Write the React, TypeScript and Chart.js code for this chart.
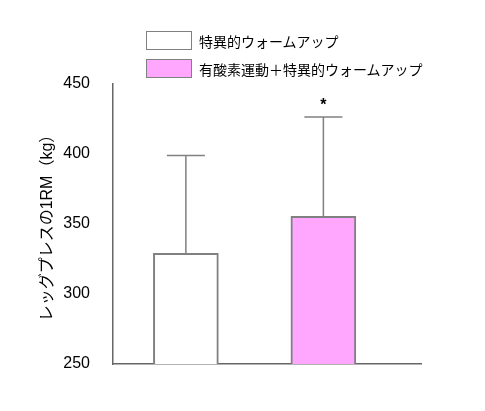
import { useEffect, useRef } from 'react';
import { Chart, registerables } from 'chart.js';

Chart.register(...registerables);

// groups and their x positions on the linear x axis
const groups = ['特異的ウォームアップ', '有酸素運動＋特異的ウォームアップ'];
const groupPos = [1, 2];
const means = [329, 355.5];
const sds = [70, 71];
const significant = [false, true];
const fills = ['#ffffff', '#ffa6ff'];

const yMin = 250;
const yMax = 450;
const yStep = 50;
const yTitle = 'レッグプレスの1RM（kg）';

const gray = '#808080';
const fontFamily = "'Liberation Sans', 'Noto Sans CJK JP', sans-serif";

const errorBars = {
    id: 'errorBars',
    afterDatasetsDraw(chart: any) {
        const { ctx, scales } = chart;
        const x = scales.x;
        const y = scales.y;
        ctx.save();
        ctx.strokeStyle = gray;
        ctx.lineWidth = 1.5;
        means.forEach((m, i) => {
            const px = x.getPixelForValue(groupPos[i]);
            const top = y.getPixelForValue(m);
            const err = y.getPixelForValue(m + sds[i]);
            ctx.beginPath();
            ctx.moveTo(px, top);
            ctx.lineTo(px, err);
            ctx.moveTo(px - 19, err);
            ctx.lineTo(px + 19, err);
            ctx.stroke();
            if (significant[i]) {
                ctx.fillStyle = '#000';
                ctx.font = `bold 16px ${fontFamily}`;
                ctx.textAlign = 'center';
                ctx.textBaseline = 'alphabetic';
                ctx.fillText('*', px, err - 7);
            }
        });
        ctx.restore();
    },
};

export default function App() {
    const chartRef = useRef<HTMLCanvasElement>(null);
    const chartInstance = useRef<Chart | null>(null);

    useEffect(() => {
        if (!chartRef.current) return;
        if (chartInstance.current) chartInstance.current.destroy();

        const config: any = {
            type: 'bar',
            data: {
                datasets: [
                    {
                        data: groupPos.map((p, i) => ({ x: p, y: means[i] })),
                        backgroundColor: fills,
                        borderColor: gray,
                        borderWidth: 2,
                        barThickness: 65,
                    },
                ],
            },
            options: {
                animation: false,
                responsive: true,
                maintainAspectRatio: false,
                layout: { padding: { left: 0, top: 84, right: 64, bottom: 47 } },
                plugins: {
                    legend: { display: false },
                    tooltip: { enabled: false },
                },
                scales: {
                    x: {
                        type: 'linear',
                        offset: false,
                        min: 0.47,
                        max: 2.71,
                        grid: { display: false },
                        ticks: { display: false },
                        border: { display: true, color: '#666', width: 1.5 },
                        afterFit: (scale: any) => {
                            scale.height = 0;
                        },
                    },
                    y: {
                        min: yMin,
                        max: yMax,
                        grid: { display: false },
                        border: { display: true, color: '#666', width: 1.5 },
                        ticks: {
                            stepSize: yStep,
                            padding: 15,
                            color: '#000',
                            font: { family: fontFamily, size: 16 },
                        },
                        title: {
                            display: true,
                            text: yTitle,
                            color: '#000',
                            font: { family: fontFamily, size: 16 },
                            padding: { top: 38, bottom: 0 },
                        },
                        afterFit: (scale: any) => {
                            scale.width = 113;
                        },
                    },
                },
            },
            plugins: [errorBars],
        };

        chartInstance.current = new Chart(chartRef.current, config);

        return () => {
            if (chartInstance.current) {
                chartInstance.current.destroy();
                chartInstance.current = null;
            }
        };
    }, []);

    return (
        <div style={{ position: 'fixed', left: 0, top: 0, width: 485, height: 411, background: '#fff' }}>
            <canvas ref={chartRef} />
            {groups.map((g, i) => (
                <div
                    key={g}
                    style={{
                        position: 'absolute',
                        left: 146,
                        top: 31 + i * 28,
                        height: 19,
                        display: 'flex',
                        alignItems: 'center',
                        fontFamily,
                        fontSize: 14,
                        color: '#000',
                        whiteSpace: 'nowrap',
                    }}
                >
                    <span
                        style={{
                            display: 'inline-block',
                            width: 44,
                            height: 17,
                            border: `1.5px solid ${gray}`,
                            background: fills[i],
                            marginRight: 7,
                        }}
                    />
                    {g}
                </div>
            ))}
        </div>
    );
}
